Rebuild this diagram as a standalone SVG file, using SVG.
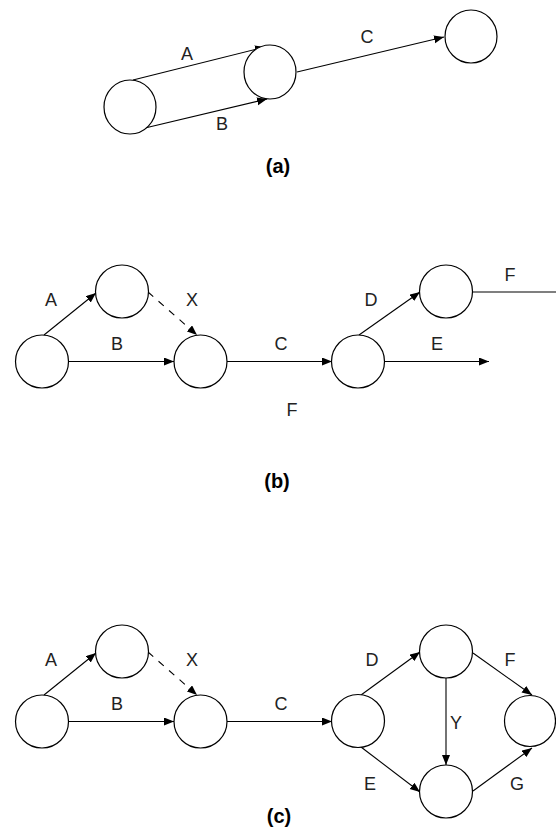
<svg xmlns="http://www.w3.org/2000/svg" width="556" height="831" viewBox="0 0 556 831">
<style>
.n{fill:#fff;stroke:#000;stroke-width:1.2}
.e{fill:none;stroke:#000;stroke-width:1.1}
.d{stroke-dasharray:7 7}
.t{font-family:"Liberation Sans",Arial,sans-serif;font-size:18px;fill:#222;text-anchor:middle}
.cap{font-family:"Liberation Sans",Arial,sans-serif;font-size:20px;font-weight:bold;fill:#000;text-anchor:middle}
</style>
<defs>
<marker id="ah" markerUnits="userSpaceOnUse" markerWidth="11" markerHeight="9" refX="10" refY="4" orient="auto" viewBox="0 0 11 9">
<path d="M0,0 L10,4 L0,8 z" fill="#000"/>
</marker>
</defs>
<rect width="556" height="831" fill="#fff"/>
<g id="connectors">
<line class="e" x1="133" y1="80" x2="265" y2="47" marker-end="url(#ah)"/>
<line class="e" x1="145" y1="128" x2="267" y2="99" marker-end="url(#ah)"/>
<line class="e" x1="297" y1="72" x2="444" y2="37" marker-end="url(#ah)"/>
<line class="e" x1="44" y1="335" x2="96" y2="293" marker-end="url(#ah)"/>
<line class="e" x1="69" y1="361.5" x2="174" y2="361.5" marker-end="url(#ah)"/>
<line class="e d" x1="148" y1="292" x2="197" y2="335" marker-end="url(#ah)"/>
<line class="e" x1="227" y1="361.5" x2="332" y2="361.5" marker-end="url(#ah)"/>
<line class="e" x1="359" y1="335" x2="420" y2="292" marker-end="url(#ah)"/>
<line class="e" x1="384" y1="361.5" x2="489" y2="361.5" marker-end="url(#ah)"/>
<line class="e" x1="472" y1="292" x2="556" y2="292"/>
<line class="e" x1="44" y1="695" x2="96" y2="653" marker-end="url(#ah)"/>
<line class="e" x1="69" y1="721.5" x2="174" y2="721.5" marker-end="url(#ah)"/>
<line class="e d" x1="148" y1="652" x2="197" y2="695" marker-end="url(#ah)"/>
<line class="e" x1="227" y1="721.5" x2="332" y2="721.5" marker-end="url(#ah)"/>
<line class="e" x1="361" y1="695" x2="420" y2="652" marker-end="url(#ah)"/>
<line class="e" x1="361" y1="747" x2="420" y2="792" marker-end="url(#ah)"/>
<line class="e" x1="446" y1="678" x2="446" y2="765" marker-end="url(#ah)"/>
<line class="e" x1="473" y1="653" x2="532" y2="695" marker-end="url(#ah)"/>
<line class="e" x1="473" y1="791" x2="532" y2="748" marker-end="url(#ah)"/>
</g>
<g id="a1"><ellipse class="n" cx="130" cy="107" rx="26" ry="27"/></g>
<g id="a2"><ellipse class="n" cx="270" cy="72" rx="26" ry="27"/></g>
<g id="a3"><ellipse class="n" cx="471" cy="36.5" rx="26" ry="26.5"/></g>
<g id="b1"><circle class="n" cx="42" cy="361.5" r="26.5"/></g>
<g id="b2"><circle class="n" cx="122" cy="291.5" r="26.5"/></g>
<g id="b3"><circle class="n" cx="200.5" cy="361.5" r="26.5"/></g>
<g id="b4"><circle class="n" cx="358" cy="361.5" r="26.5"/></g>
<g id="b5"><circle class="n" cx="446" cy="291.5" r="26.5"/></g>
<g id="c1"><circle class="n" cx="42" cy="721.5" r="26.5"/></g>
<g id="c2"><circle class="n" cx="122" cy="651.5" r="26.5"/></g>
<g id="c3"><circle class="n" cx="200.5" cy="721.5" r="26.5"/></g>
<g id="c4"><circle class="n" cx="358" cy="721" r="26.5"/></g>
<g id="c5"><circle class="n" cx="446" cy="651.5" r="26.5"/></g>
<g id="c6"><circle class="n" cx="446" cy="791.5" r="26.5"/></g>
<g id="c7"><circle class="n" cx="530" cy="721" r="25.5"/></g>
<g id="labels">
<text class="t" x="187" y="60">A</text>
<text class="t" x="222" y="130">B</text>
<text class="t" x="367" y="43">C</text>
<text class="cap" x="278" y="173">(a)</text>
<text class="t" x="51" y="306">A</text>
<text class="t" x="117" y="350">B</text>
<text class="t" x="192" y="306">X</text>
<text class="t" x="281" y="350">C</text>
<text class="t" x="292" y="416">F</text>
<text class="t" x="371" y="306">D</text>
<text class="t" x="437" y="350">E</text>
<text class="t" x="510" y="281">F</text>
<text class="cap" x="277" y="488">(b)</text>
<text class="t" x="51" y="666">A</text>
<text class="t" x="117" y="710">B</text>
<text class="t" x="192" y="666">X</text>
<text class="t" x="281" y="710">C</text>
<text class="t" x="372" y="666">D</text>
<text class="t" x="370" y="790">E</text>
<text class="t" x="456" y="729">Y</text>
<text class="t" x="510" y="666">F</text>
<text class="t" x="517" y="790">G</text>
<text class="cap" x="279" y="823">(c)</text>
</g>
</svg>
